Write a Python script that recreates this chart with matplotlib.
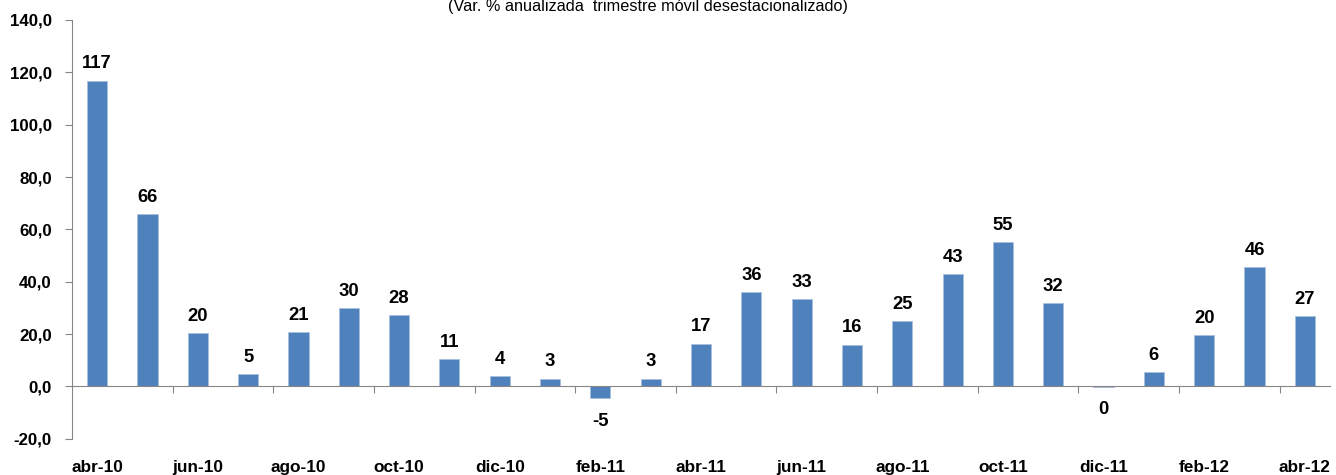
import matplotlib
matplotlib.use("Agg")
import matplotlib.pyplot as plt
import matplotlib.transforms as mtransforms
import numpy as np

categories = ["abr-10", "may-10", "jun-10", "jul-10", "ago-10", "sep-10", "oct-10",
              "nov-10", "dic-10", "ene-11", "feb-11", "mar-11", "abr-11", "may-11",
              "jun-11", "jul-11", "ago-11", "sep-11", "oct-11", "nov-11", "dic-11",
              "ene-12", "feb-12", "mar-12", "abr-12"]
values = [116.8, 65.8, 20.3, 4.6, 20.7, 29.8, 27.2, 10.4, 3.9, 2.9, -4.6, 2.9, 16.3,
          36.0, 33.3, 15.9, 24.8, 42.8, 55.0, 31.7, -0.2, 5.5, 19.6, 45.6, 26.7]
bar_labels = ["117", "66", "20", "5", "21", "30", "28", "11", "4", "3", "-5", "3", "17",
              "36", "33", "16", "25", "43", "55", "32", "0", "6", "20", "46", "27"]
yticks = [-20, 0, 20, 40, 60, 80, 100, 120, 140]
title = "(Var. % anualizada  trimestre móvil desestacionalizado)"

plt.rcParams['font.family'] = ['Liberation Sans', 'DejaVu Sans']

fig = plt.figure(figsize=(13.36, 4.75), dpi=100)
ax = fig.add_axes([72/1336, 1 - 438.7/475, (1330 - 72)/1336, (438.7 - 20)/475])

x = np.arange(len(categories))
ax.bar(x, values, width=0.4, color="#4F81BD", edgecolor="#A7BFDE", linewidth=0.5, zorder=2)

ax.set_xlim(-0.5, len(categories) - 0.5)
ax.set_ylim(-20, 140)
ax.set_yticks(yticks)
ax.set_yticklabels([f"{v:.1f}".replace(".", ",") for v in yticks],
                   fontsize=12.2, fontweight="bold")

axis_color = "#868686"
for s in ["top", "right"]:
    ax.spines[s].set_visible(False)
ax.spines["left"].set_color(axis_color)
ax.spines["bottom"].set_color(axis_color)
ax.spines["bottom"].set_position(("data", 0))
ax.spines["left"].set_zorder(3)
ax.spines["bottom"].set_zorder(3)

ax.tick_params(axis="y", direction="out", length=5, color=axis_color, pad=9.5)
ax.set_xticks(np.arange(1.5, len(categories) - 1, 2))
ax.tick_params(axis="x", direction="out", length=5, color=axis_color, labelbottom=False)

trans = mtransforms.blended_transform_factory(ax.transData, ax.transAxes)
for i in range(0, len(categories), 2):
    ax.text(x[i], -0.068, categories[i], transform=trans, ha="center", va="center",
            fontsize=12.4, fontweight="bold")

for xi, v, lab in zip(x, values, bar_labels):
    off = 12.2 if v >= 0 else -16.5
    ax.annotate(lab, (xi, v), xytext=(0, off), textcoords="offset points",
                ha="center", va="center", fontsize=13.3, fontweight="bold")

fig.text(648/1336, 1 - 11/475, title, ha="center", va="baseline", fontsize=11.7)

fig.savefig("out.png", dpi=100)
